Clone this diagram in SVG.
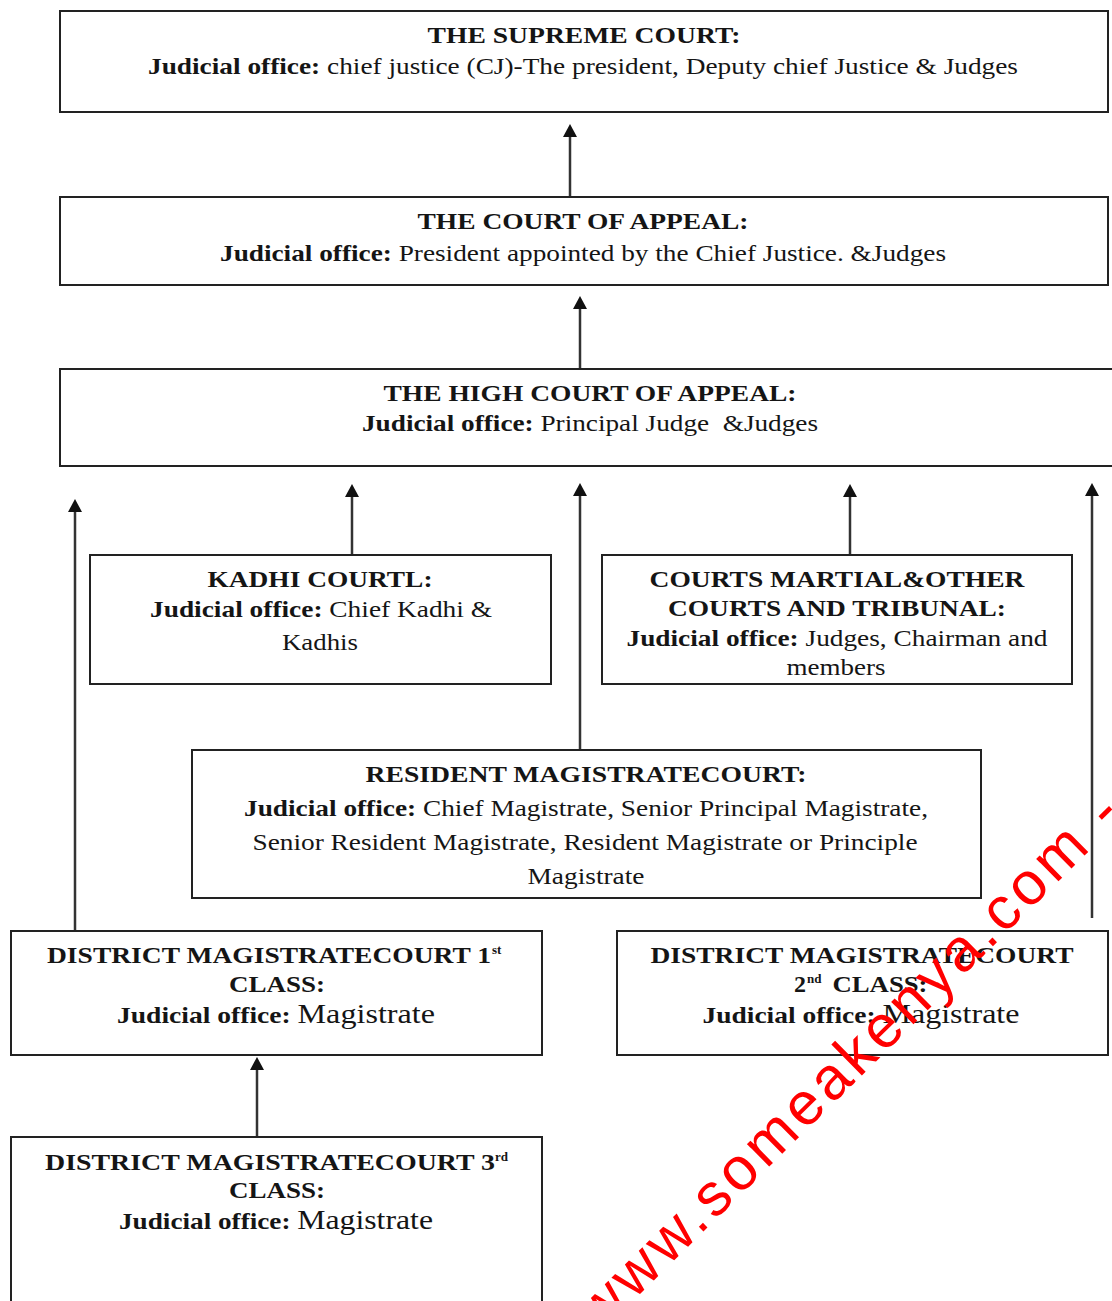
<svg xmlns="http://www.w3.org/2000/svg" width="1112" height="1301" viewBox="0 0 1112 1301">
<style>
.box{fill:#fff;stroke:#222;stroke-width:2}
.t{font-family:"Liberation Serif","Times New Roman",serif;font-size:24px;fill:#151515;text-anchor:middle}
.b{font-weight:bold}
.big{font-size:28px}
.sup{font-family:"Liberation Serif","Times New Roman",serif;font-size:13px;font-weight:bold;fill:#151515}
.conn{stroke:#333;stroke-width:2.5;fill:none;marker-end:url(#ah)}
.wm{font-family:"Liberation Sans",Arial,sans-serif;font-size:60px;fill:#f00}
</style>
<defs>
<marker id="ah" markerUnits="userSpaceOnUse" markerWidth="14" markerHeight="14" viewBox="0 0 14 14" refX="5" refY="7" orient="auto">
<path d="M0,0 L13,7 L0,14 z" fill="#111"/>
</marker>
</defs>
<rect width="1112" height="1301" fill="#fff"/>

<g id="connectors">
<line class="conn" x1="570" y1="196" x2="570" y2="132"/>
<line class="conn" x1="580" y1="368" x2="580" y2="304"/>
<line class="conn" x1="75" y1="930" x2="75" y2="507"/>
<line class="conn" x1="352" y1="555" x2="352" y2="492"/>
<line class="conn" x1="580" y1="750" x2="580" y2="491"/>
<line class="conn" x1="850" y1="555" x2="850" y2="492"/>
<line class="conn" x1="1092" y1="918" x2="1092" y2="491"/>
<line class="conn" x1="257" y1="1137" x2="257" y2="1065"/>
</g>

<g id="supreme">
<rect class="box" x="60" y="11" width="1048" height="101"/>
<text class="t b" x="584" y="43" textLength="313" lengthAdjust="spacingAndGlyphs">THE SUPREME COURT:</text>
<text class="t" x="583" y="74" textLength="870" lengthAdjust="spacingAndGlyphs"><tspan class="b">Judicial office:</tspan> chief justice (CJ)-The president, Deputy chief Justice &amp; Judges</text>
</g>

<g id="court-of-appeal">
<rect class="box" x="60" y="197" width="1048" height="88"/>
<text class="t b" x="583" y="229" textLength="331" lengthAdjust="spacingAndGlyphs">THE COURT OF APPEAL:</text>
<text class="t" x="583" y="261" textLength="726" lengthAdjust="spacingAndGlyphs"><tspan class="b">Judicial office:</tspan> President appointed by the Chief Justice. &amp;Judges</text>
</g>

<g id="high-court">
<rect class="box" x="60" y="369" width="1070" height="97"/>
<text class="t b" x="590" y="401" textLength="413" lengthAdjust="spacingAndGlyphs">THE HIGH COURT OF APPEAL:</text>
<text class="t" x="590" y="431" textLength="456" lengthAdjust="spacingAndGlyphs" xml:space="preserve"><tspan class="b">Judicial office:</tspan> Principal Judge  &amp;Judges</text>
</g>

<g id="kadhi">
<rect class="box" x="90" y="555" width="461" height="129"/>
<text class="t b" x="320" y="587" textLength="225" lengthAdjust="spacingAndGlyphs">KADHI COURTL:</text>
<text class="t" x="321" y="617" textLength="342" lengthAdjust="spacingAndGlyphs"><tspan class="b">Judicial office:</tspan> Chief Kadhi &amp;</text>
<text class="t" x="320" y="650" textLength="76" lengthAdjust="spacingAndGlyphs">Kadhis</text>
</g>

<g id="courts-martial">
<rect class="box" x="602" y="555" width="470" height="129"/>
<text class="t b" x="837" y="587" textLength="375" lengthAdjust="spacingAndGlyphs">COURTS MARTIAL&amp;OTHER</text>
<text class="t b" x="837" y="616" textLength="338" lengthAdjust="spacingAndGlyphs">COURTS AND TRIBUNAL:</text>
<text class="t" x="837" y="646" textLength="421" lengthAdjust="spacingAndGlyphs"><tspan class="b">Judicial office:</tspan> Judges, Chairman and</text>
<text class="t" x="836" y="675" textLength="99" lengthAdjust="spacingAndGlyphs">members</text>
</g>

<g id="resident">
<rect class="box" x="192" y="750" width="789" height="148"/>
<text class="t b" x="586" y="782" textLength="441" lengthAdjust="spacingAndGlyphs">RESIDENT MAGISTRATECOURT:</text>
<text class="t" x="586" y="816" textLength="684" lengthAdjust="spacingAndGlyphs"><tspan class="b">Judicial office:</tspan> Chief Magistrate, Senior Principal Magistrate,</text>
<text class="t" x="585" y="850" textLength="665" lengthAdjust="spacingAndGlyphs">Senior Resident Magistrate, Resident Magistrate or Principle</text>
<text class="t" x="586" y="884" textLength="117" lengthAdjust="spacingAndGlyphs">Magistrate</text>
</g>

<g id="district-1st">
<rect class="box" x="11" y="931" width="531" height="124"/>
<text class="t b" x="269" y="963" textLength="444" lengthAdjust="spacingAndGlyphs">DISTRICT MAGISTRATECOURT 1</text>
<text class="sup" x="492" y="954">st</text>
<text class="t b" x="277" y="992" textLength="96" lengthAdjust="spacingAndGlyphs">CLASS:</text>
<text class="t" x="276" y="1023" textLength="318" lengthAdjust="spacingAndGlyphs"><tspan class="b">Judicial office:</tspan> <tspan class="big">Magistrate</tspan></text>
</g>

<g id="district-2nd">
<rect class="box" x="617" y="931" width="491" height="124"/>
<text class="t b" x="862" y="963" textLength="423" lengthAdjust="spacingAndGlyphs">DISTRICT MAGISTRATECOURT</text>
<text class="t b" x="800" y="992">2</text>
<text class="sup" x="807" y="983">nd</text>
<text class="t b" x="880" y="992" textLength="95" lengthAdjust="spacingAndGlyphs">CLASS:</text>
<text class="t" x="861" y="1023" textLength="317" lengthAdjust="spacingAndGlyphs"><tspan class="b">Judicial office:</tspan> <tspan class="big">Magistrate</tspan></text>
</g>

<g id="district-3rd">
<rect class="box" x="11" y="1137" width="531" height="210"/>
<text class="t b" x="270" y="1170" textLength="450" lengthAdjust="spacingAndGlyphs">DISTRICT MAGISTRATECOURT 3</text>
<text class="sup" x="495" y="1161">rd</text>
<text class="t b" x="277" y="1198" textLength="96" lengthAdjust="spacingAndGlyphs">CLASS:</text>
<text class="t" x="276" y="1229" textLength="314" lengthAdjust="spacingAndGlyphs"><tspan class="b">Judicial office:</tspan> <tspan class="big">Magistrate</tspan></text>
</g>

<g id="watermark">
<text class="wm" transform="translate(708,1227) rotate(-44.6)" x="-152" y="0" letter-spacing="4.5">www.someakenya.com -</text>
</g>
</svg>
